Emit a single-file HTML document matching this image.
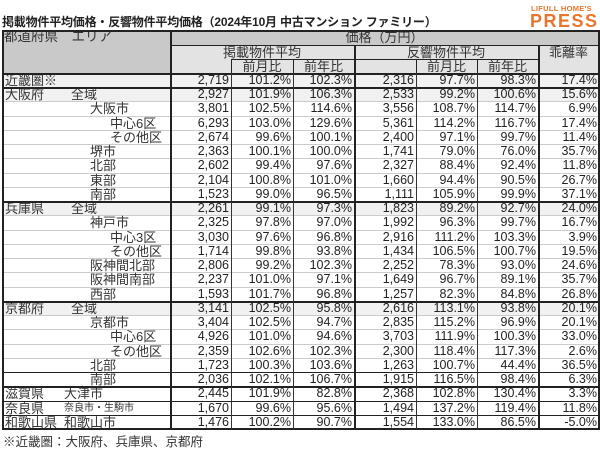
<!DOCTYPE html>
<html><head><meta charset="utf-8"><style>
body{margin:0;width:600px;height:450px;background:#fff;position:relative;overflow:hidden;font-family:"Liberation Sans","Noto Sans CJK JP",sans-serif;color:#222}
.c{position:absolute;box-sizing:border-box;font-size:12.5px;white-space:nowrap;overflow:hidden}
.r{text-align:right;padding-right:2px}
.h{text-align:center;font-size:13px;color:#333}
.ln{position:absolute;background:#222}
</style></head><body>
<div style="position:absolute;left:2px;top:13px;font-size:12px;font-weight:bold;letter-spacing:-0.2px">掲載物件平均価格・反響物件平均価格（2024年10月 中古マンション ファミリー）</div>
<div style="position:absolute;left:531px;top:4px;width:68px;font-size:7.5px;font-weight:bold;color:#e8762c;letter-spacing:0.3px">LIFULL HOME'S</div>
<div style="position:absolute;left:530px;top:11px;font-size:18px;font-weight:bold;color:#e8762c;letter-spacing:1.5px">PRESS</div>
<div id="t"></div>
<div style="position:absolute;left:3px;top:431px;font-size:12.5px;color:#333">※近畿圏：大阪府、兵庫県、京都府</div>
<script>
const labels=[["近畿圏※","",0],["大阪府","全域",0],["","大阪市",1],["","中心6区",2],["","その他区",2],["","堺市",1],["","北部",1],["","東部",1],["","南部",1],
["兵庫県","全域",0],["","神戸市",1],["","中心3区",2],["","その他区",2],["","阪神間北部",1],["","阪神間南部",1],["","西部",1],
["京都府","全域",0],["","京都市",1],["","中心6区",2],["","その他区",2],["","北部",1],["","南部",1],
["滋賀県","大津市",0],["奈良県","奈良市・生駒市",0],["和歌山県","和歌山市",0]];
const listed=["2,719","2,927","3,801","6,293","2,674","2,363","2,602","2,104","1,523","2,261","2,325","3,030","1,714","2,806","2,237","1,593","3,141","3,404","4,926","2,359","1,723","2,036","2,445","1,670","1,476"];
const listedMoM=["101.2%","101.9%","102.5%","103.0%","99.6%","100.1%","99.4%","100.8%","99.0%","99.1%","97.8%","97.6%","99.8%","99.2%","101.0%","101.7%","102.5%","102.5%","101.0%","102.6%","100.3%","102.1%","101.9%","99.6%","100.2%"];
const listedYoY=["102.3%","106.3%","114.6%","129.6%","100.1%","100.0%","97.6%","101.0%","96.5%","97.3%","97.0%","96.8%","93.8%","102.3%","97.1%","96.8%","95.8%","94.7%","94.6%","102.3%","103.6%","106.7%","82.8%","95.6%","90.7%"];
const resp=["2,316","2,533","3,556","5,361","2,400","1,741","2,327","1,660","1,111","1,823","1,992","2,916","1,434","2,252","1,649","1,257","2,616","2,835","3,703","2,300","1,263","1,915","2,368","1,494","1,554"];
const respMoM=["97.7%","99.2%","108.7%","114.2%","97.1%","79.0%","88.4%","94.4%","105.9%","89.2%","96.3%","111.2%","106.5%","78.3%","96.7%","82.3%","113.1%","115.2%","111.9%","118.4%","100.7%","116.5%","102.8%","137.2%","133.0%"];
const respYoY=["98.3%","100.6%","114.7%","116.7%","99.7%","76.0%","92.4%","90.5%","99.9%","92.7%","99.7%","103.3%","100.7%","93.0%","89.1%","84.8%","93.8%","96.9%","100.3%","117.3%","44.4%","98.4%","130.4%","119.4%","86.5%"];
const gap=["17.4%","15.6%","6.9%","17.4%","11.4%","35.7%","11.8%","26.7%","37.1%","24.0%","16.7%","3.9%","19.5%","24.6%","35.7%","26.8%","20.1%","20.1%","33.0%","2.6%","36.5%","6.3%","3.3%","11.8%","-5.0%"];
const X=[2,170,231,293,354,416,477,538,599];
const T=document.getElementById('t');
function cell(x,y,w,h,txt,cls,bg,name){const d=document.createElement('div');d.className='c '+cls;d.style.left=x+'px';d.style.top=y+'px';d.style.width=w+'px';d.style.height=h+'px';d.style.lineHeight=(h+1)+'px';if(bg)d.style.background=bg;d.textContent=txt;


T.appendChild(d);return d;}
function line(x,y,w,h,c){const d=document.createElement('div');d.className='ln';d.style.left=x+'px';d.style.top=y+'px';d.style.width=w+'px';d.style.height=h+'px';if(c)d.style.background=c;


T.appendChild(d);}
const hd=cell(2,30,168,43,"","",'#c9c9c9','header-area');
const hs=document.createElement('span');hs.textContent="都道府県　エリア";hs.style.cssText='position:absolute;left:2px;top:-1px;line-height:15px;font-size:13.5px;color:#333';hd.appendChild(hs);
cell(170,30,429,15,"価格（万円）","h",'#c9c9c9','header-price');
cell(170,45,184,14,"掲載物件平均","h",'#e3e3e3','header-listed');
cell(354,45,184,14,"反響物件平均","h",'#e3e3e3','header-response');
cell(538,45,61,28,"","h",'#e3e3e3','header-gap').innerHTML='<div style="line-height:15px">乖離率</div>';
cell(170,59,61,14,"","h",'#e3e3e3','header-blank1');
cell(231,59,62,14,"前月比","h",'#e3e3e3','header-listed-mom');
cell(293,59,61,14,"前年比","h",'#e3e3e3','header-listed-yoy');
cell(354,59,62,14,"","h",'#e3e3e3','header-blank2');
cell(416,59,61,14,"前月比","h",'#e3e3e3','header-response-mom');
cell(477,59,61,14,"前年比","h",'#e3e3e3','header-response-yoy');
line(170,45,429,1);line(231,59,307,1);line(416,59,122,1);
line(231,59,1,14);line(293,59,1,14);line(416,59,1,14);line(477,59,1,14);
const rh=(429-87)/24;
const rowY=[];
labels.forEach((l,i)=>{
 const yy=(i==0)?73:87+(i-1)*rh; const h=(i==0)?14:rh;
 rowY.push(yy);
 const bg=(i==0||l[1]=="全域")?'#f1f1f1':'';
 const lab=cell(2,yy,168,h,"","",bg,'row-label');
 const a=document.createElement('span');a.textContent=l[0];a.style.cssText='position:absolute;left:3px;top:0;font-size:13px;color:#333';lab.appendChild(a);
 const b=document.createElement('span');b.textContent=l[1];
 const ix=l[0]&&l[1]?(i>=22?62:69):(l[2]==1?88:108);
 b.style.cssText='position:absolute;left:'+ix+'px;top:0;font-size:'+(l[1].length>6?10:13)+'px;color:#333';lab.appendChild(b);
 [listed,listedMoM,listedYoY,resp,respMoM,respYoY,gap].forEach((arr,k)=>{cell(X[k+1],yy,X[k+2]-X[k+1],h,arr[i],"r",bg,'value-cell');});
 line(2,Math.round(yy+h),597,1,'#ccc');
});
rowY.push(429);
[1,9,16,21,22,23,24].forEach(i=>line(2,Math.round(rowY[i]),597,(i==21||i==23||i==24)?1:1.5));
line(2,30,597,2);line(2,73,597,1.5);line(2,428,597,2);
line(2,30,1.5,400);line(598,30,1.5,400);
line(170,30,1.5,400);line(354,45,1.5,385);line(538,45,1.5,385);
[231,293,416,477].forEach(x=>line(x,73,1,356,'#333'));
</script>
</body></html>
